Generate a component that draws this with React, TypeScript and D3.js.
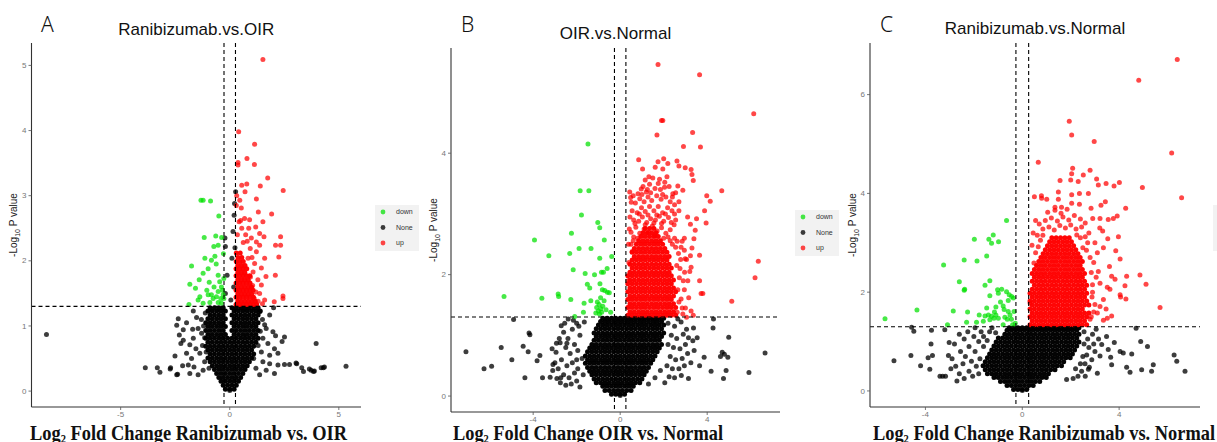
import * as d3 from 'd3';
import React from 'react';

type Pt = [number, number];
type Row = [number, number[]]; // [y, x values] for the packed cores of each cloud

// cut-offs used for the dashed guide lines
const fcCut = 0.263;
const pCut = 1.301;
// each position in a packed core stands for about this many overplotted genes
const coreDepth = 3;

// ---------- A: Ranibizumab.vs.OIR ----------
const aXTicks = [-5, 0, 5];
const aYTicks = [0, 1, 2, 3, 4, 5];

const aDown: Pt[] = [
  [-1.32,2.93],[-1.22,2.93],[-0.88,2.92],[-0.5,2.69],[-1.17,2.36],[-0.64,2.38],[-0.37,2.36],[-0.53,2.24],[-0.73,2.22],
  [-0.29,2.11],[-0.68,2.07],[-0.84,2.01],[-1.14,2.04],[-1.75,1.92],[-0.99,1.88],[-1.22,1.81],[-1.4,1.71],[-0.53,1.78],
  [-1.83,1.64],[-0.94,1.67],[-0.46,1.68],[-1.57,1.58],[-0.72,1.6],[-0.38,1.6],[-1.37,1.45],[-1.45,1.4],[-0.99,1.48],
  [-0.84,1.48],[-0.53,1.53],[-0.33,1.55],[-0.76,1.42],[-0.61,1.45],[-0.41,1.42],[-0.91,1.36],[-1.22,1.35],[-1.87,1.33],
  [-0.53,1.36],[-0.38,1.35],[-0.27,1.73],[-0.27,1.42],[-0.3,1.48],[-1.05,1.55],[-0.62,1.95],
];
const aUp: Pt[] = [
  [1.52,5.09],[0.41,3.98],[1.14,3.79],[0.79,3.57],[0.38,3.51],[0.38,3.47],[1.13,3.48],[1.74,3.27],[0.55,3.16],[0.78,3.18],
  [0.7,3.06],[1.4,3.15],[2.45,3.08],[1.22,2.95],[0.46,2.93],[1.31,2.75],[1.92,2.72],[0.53,2.81],[0.68,2.65],[0.91,2.63],
  [0.43,2.6],[1.19,2.52],[1.52,2.6],[0.87,2.5],[2.33,2.37],[2.33,2.24],[2.1,2.24],[2.25,2.06],[1.57,2.37],[1.37,2.24],
  [1.6,2.04],[1.22,2.14],[2.09,1.78],[1.66,1.76],[2.44,1.46],[2.44,1.42],[2.04,1.37],[1.6,1.4],[1.37,1.5],[1.45,1.63],
  [1.29,1.71],[1.07,1.83],[1.14,1.96],[0.99,2.35],[0.73,2.4],[1.37,2.42],[1.22,2.29],[0.94,2.19],[1.45,1.89],[0.84,2.04],
  [1.3,1.38],[1.2,1.52],[1.05,1.62],[1.5,1.34],[0.3,2.85],[0.32,3.0],[0.62,2.28],[0.35,2.4],[0.55,2.5],[1.02,2.05],
  [1.12,1.42],[0.95,1.75],[0.5,2.62],[0.8,2.3],
];
const aUpRows: Row[] = [
  [1.33,[0.29,0.45,0.61,0.77,0.93,1.09,1.23]],[1.38,[0.37,0.53,0.69,0.85,1.01,1.17]],[1.44,[0.29,0.45,0.61,0.77,0.93,1.09]],
  [1.49,[0.37,0.53,0.69,0.85,1.01]],[1.55,[0.29,0.45,0.61,0.77,0.93,1.07]],[1.6,[0.37,0.53,0.69,0.85,1.0]],
  [1.66,[0.29,0.45,0.61,0.77,0.93]],[1.71,[0.37,0.53,0.69,0.85]],[1.77,[0.29,0.45,0.61,0.77,0.92]],
  [1.82,[0.37,0.53,0.69]],[1.88,[0.29,0.45,0.61,0.78]],[1.93,[0.37,0.53,0.7]],[1.99,[0.3,0.46,0.62]],
  [2.05,[0.38,0.55]],[2.12,[0.3,0.48]],
];
const aNone: Pt[] = [
  [-8.4,0.87],[-1.67,1.23],[-2.36,1.11],[-1.98,1.05],[-1.52,1.13],[-2.13,0.94],[-1.7,0.95],[-1.45,0.96],[-2.31,0.86],
  [-2.13,0.78],[-2.24,0.73],[-1.67,0.81],[-1.29,0.89],[-1.83,0.71],[-1.55,0.65],[-2.51,0.54],[-1.98,0.58],[-1.75,0.5],
  [-1.37,0.58],[-2.16,0.39],[-2.71,0.36],[-3.32,0.36],[-3.2,0.29],[-2.39,0.26],[-1.83,0.27],[-1.64,0.37],[-1.9,0.4],
  [-1.45,0.25],[-1.22,0.32],[-3.87,0.36],[-2.73,0.34],[-2.43,0.25],[-2.43,1.01],[-1.2,1.0],[-1.25,0.7],[-1.15,0.45],
  [1.6,1.02],[1.67,0.96],[1.98,0.91],[2.1,0.85],[2.51,0.83],[2.4,0.76],[1.52,0.81],[1.75,0.73],[2.05,0.65],[2.21,0.58],
  [1.83,0.55],[3.96,0.73],[1.37,1.22],[1.83,1.17],[2.01,1.28],[1.52,0.45],[1.83,0.42],[2.21,0.4],[2.51,0.41],[2.74,0.41],
  [3.07,0.42],[3.3,0.36],[3.38,0.3],[3.73,0.32],[3.84,0.3],[4.19,0.36],[4.29,0.36],[5.33,0.38],[2.05,0.27],[1.67,0.32],
  [1.37,0.25],[3.04,0.43],[3.65,0.34],[3.88,0.31],[4.34,0.37],[1.5,1.1],[1.45,0.6],[1.2,0.35],[0.0,0.01],
  [0.27,3.06],[0.22,2.88],[0.2,2.7],[0.15,2.45],[-0.2,2.22],[0.1,2.04],[-0.12,1.78],[0.18,1.6],[-0.2,1.5],[0.05,1.4],
  [-0.22,2.35],[0.24,2.2],[-1.12,1.2],[-1.3,1.1],[-1.15,0.82],[-1.08,0.6],[-0.95,0.35],[1.4,0.92],[1.3,0.7],[1.1,0.5],
];
const aNoneRows: Row[] = [
  [0.03,[-0.2,0,0.2]],
  [0.09,[-0.3,-0.1,0.1,0.3]],
  [0.15,[-0.4,-0.2,0,0.2,0.4]],
  [0.21,[-0.5,-0.3,-0.1,0.1,0.3,0.5]],
  [0.27,[-0.6,-0.4,-0.2,0,0.2,0.4,0.6]],
  [0.33,[-0.7,-0.5,-0.3,-0.1,0.1,0.3,0.5,0.7]],
  [0.39,[-0.8,-0.6,-0.4,-0.2,0,0.2,0.4,0.6,0.8]],
  [0.45,[-0.9,-0.7,-0.5,-0.3,-0.1,0.1,0.3,0.5,0.7,0.9]],
  [0.51,[-1,-0.8,-0.6,-0.4,-0.2,0,0.2,0.4,0.6,0.8,1]],
  [0.57,[-0.9,-0.7,-0.5,-0.3,-0.1,0.1,0.3,0.5,0.7,0.9,1.1]],
  [0.63,[-1,-0.8,-0.6,-0.4,-0.2,0,0.2,0.4,0.6,0.8,1]],
  [0.69,[-1.1,-0.9,-0.7,-0.5,-0.3,-0.1,0.1,0.3,0.5,0.7,0.9,1.1]],
  [0.75,[-1,-0.8,-0.6,-0.4,-0.2,0,0.2,0.4,0.6,0.8,1,1.2]],
  [0.81,[-1.1,-0.9,-0.7,-0.5,-0.3,-0.1,0.1,0.3,0.5,0.7,0.9,1.1,1.3]],
  [0.87,[-1,-0.8,-0.6,-0.4,-0.2,0.2,0.4,0.6,0.8,1,1.2]],
  [0.93,[-1.1,-0.9,-0.7,-0.5,-0.3,0.1,0.3,0.5,0.7,0.9,1.1,1.3]],
  [0.99,[-1,-0.8,-0.6,-0.4,-0.2,0.2,0.4,0.6,0.8,1,1.2]],
  [1.05,[-1.1,-0.9,-0.7,-0.5,-0.3,0.1,0.3,0.5,0.7,0.9,1.1,1.3]],
  [1.11,[-1,-0.8,-0.6,-0.4,-0.2,0.2,0.4,0.6,0.8,1,1.2]],
  [1.17,[-0.9,-0.7,-0.5,-0.3,0.1,0.3,0.5,0.7,0.9,1.1,1.3]],
  [1.23,[-1,-0.8,-0.6,-0.4,-0.2,0.2,0.4,0.6,0.8,1,1.2,1.4]],
  [1.28,[-0.9,-0.7,-0.5,-0.3,0.1,0.3,0.5,0.7,0.9,1.1,1.3]],
];

// ---------- B: OIR.vs.Normal ----------
const bXTicks = [-4, 0, 4];
const bYTicks = [0, 2, 4];

const bDown: Pt[] = [
  [-1.48,4.15],[-1.84,3.38],[-1.44,3.38],[-1.78,2.98],[-1.03,2.86],[-0.94,2.77],[-3.94,2.57],[-2.24,2.68],[-0.73,2.57],
  [-1.89,2.43],[-1.34,2.43],[-3.28,2.31],[-2.32,2.35],[-0.94,2.27],[-0.39,2.3],[-2.16,2.08],[-1.61,2.02],[-1.18,2.0],
  [-0.86,2.04],[-0.77,2.04],[-0.6,2.1],[-1.51,1.84],[-1.4,1.78],[-0.93,1.85],[-0.82,1.75],[-0.71,1.74],[-0.59,1.71],
  [-0.5,1.7],[-5.34,1.64],[-3.6,1.61],[-2.85,1.68],[-2.83,1.64],[-2.27,1.59],[-1.66,1.53],[-1.35,1.57],[-1.05,1.55],
  [-0.97,1.51],[-1.08,1.46],[-0.89,1.44],[-0.74,1.57],[-1.69,1.38],[-1.12,1.37],[-0.44,1.38],[-2.09,1.31],[-0.95,1.35],
  [-1.0,1.4],[-0.85,1.38],[-0.8,1.48],[-0.65,1.42],[-0.9,1.62],
];
const bUp: Pt[] = [
  [1.74,5.46],[3.65,5.29],[6.14,4.65],[1.9,4.54],[1.96,4.54],[1.69,4.3],[3.33,4.34],[2.91,4.11],[3.69,4.1],[0.85,3.89],
  [1.03,3.74],[2.0,3.91],[1.74,3.86],[2.19,3.83],[1.61,3.77],[1.96,3.74],[2.61,3.87],[2.7,3.79],[2.99,3.76],[3.26,3.73],
  [3.3,3.65],[3.36,3.55],[1.32,3.61],[1.5,3.59],[1.81,3.57],[2.15,3.61],[1.35,3.49],[2.65,3.46],[2.04,3.44],[2.88,3.39],
  [2.42,3.33],[4.67,3.38],[3.98,3.3],[4.14,3.21],[0.44,3.36],[0.48,3.27],[0.51,3.19],[0.82,3.33],[0.97,3.41],[1.2,3.36],
  [3.88,3.05],[3.95,2.85],[3.51,2.92],[3.23,2.83],[3.45,2.73],[3.39,2.59],[3.3,2.44],[3.23,2.31],[2.99,2.26],[3.26,2.12],
  [2.96,2.04],[3.11,1.9],[3.65,2.32],[3.65,1.9],[3.72,1.69],[3.8,1.69],[6.35,2.22],[6.2,1.95],[5.13,1.56],[3.0,1.45],
  [3.26,1.4],[3.36,1.33],[2.88,1.35],[0.36,1.9],[0.4,2.2],[0.38,2.5],[0.42,2.75],[0.45,2.95],[2.8,1.6],[2.95,1.75],
  [2.75,2.1],[2.8,2.45],[2.95,2.6],[3.1,2.95],[2.7,3.05],[2.55,2.9],
  // loose upper part of the red column
  [0.5,2.7],[0.72,2.78],[0.9,2.68],[1.1,2.75],[1.3,2.7],[1.48,2.8],[1.7,2.72],[1.9,2.77],[2.1,2.68],[2.3,2.74],
  [2.48,2.82],[0.62,2.9],[0.85,2.88],[1.02,2.95],[1.22,2.86],[1.4,2.92],[1.62,2.9],[1.8,2.96],[2.0,2.88],[2.22,2.94],
  [0.55,3.05],[0.78,3.02],[0.98,3.1],[1.15,3.04],[1.35,3.12],[1.55,3.05],[1.75,3.12],[1.95,3.02],[2.18,3.1],[2.38,3.05],
  [0.7,3.18],[0.9,3.25],[1.1,3.2],[1.28,3.28],[1.45,3.22],[1.68,3.3],[1.88,3.24],[2.1,3.28],[2.3,3.2],[2.5,3.15],
  [1.05,3.45],[1.25,3.4],[1.6,3.42],[1.85,3.4],[2.25,3.45],[2.55,3.35],[2.7,3.2],[2.5,2.6],[0.62,2.62],[1.6,2.64],
  [0.5,2.5],[0.6,2.56],[0.55,2.38],[2.3,2.56],[2.4,2.5],[2.2,2.62],[0.8,2.6],[2.0,2.6],[0.68,2.84],[1.15,2.82],
  [1.55,2.85],[1.9,2.84],[2.35,2.86],[0.88,3.0],[1.28,2.98],[1.68,2.98],[2.08,3.0],[2.5,3.0],[1.0,3.32],[1.4,3.35],
  [1.95,3.32],[2.4,3.28],[0.6,3.3],[1.15,3.56],[1.75,3.5],[2.05,3.52],
  // ragged right edge of the column
  [2.62,1.38],[2.7,1.55],[2.65,1.75],[2.72,1.95],[2.6,2.15],[2.68,2.35],[2.85,1.45],[2.9,1.9],[2.78,2.25],[2.85,2.55],
  [3.05,2.25],[3.15,1.62],[2.62,2.55],[3.05,1.3],[2.95,2.4],[3.2,2.05],[2.55,2.45],
];
const bUpRows: Row[] = [
  [1.33,[0.35,0.55,0.75,0.95,1.15,1.35,1.55,1.75,1.95,2.15,2.35,2.55]],
  [1.39,[0.45,0.65,0.85,1.05,1.25,1.45,1.65,1.85,2.05,2.25,2.45]],
  [1.46,[0.35,0.55,0.75,0.95,1.15,1.35,1.55,1.75,1.95,2.15,2.35,2.55]],
  [1.52,[0.45,0.65,0.85,1.05,1.25,1.45,1.65,1.85,2.05,2.25,2.45]],
  [1.59,[0.35,0.55,0.75,0.95,1.15,1.35,1.55,1.75,1.95,2.15,2.35]],
  [1.65,[0.45,0.65,0.85,1.05,1.25,1.45,1.65,1.85,2.05,2.25,2.45]],
  [1.72,[0.35,0.55,0.75,0.95,1.15,1.35,1.55,1.75,1.95,2.15,2.35,2.55]],
  [1.78,[0.45,0.65,0.85,1.05,1.25,1.45,1.65,1.85,2.05,2.25,2.45]],
  [1.85,[0.35,0.55,0.75,0.95,1.15,1.35,1.55,1.75,1.95,2.15,2.35]],
  [1.91,[0.45,0.65,0.85,1.05,1.25,1.45,1.65,1.85,2.05,2.25,2.45]],
  [1.98,[0.35,0.55,0.75,0.95,1.15,1.35,1.55,1.75,1.95,2.15,2.35]],
  [2.04,[0.45,0.65,0.85,1.05,1.25,1.45,1.65,1.85,2.05,2.25]],
  [2.11,[0.55,0.75,0.95,1.15,1.35,1.55,1.75,1.95,2.15,2.35]],
  [2.17,[0.45,0.65,0.85,1.05,1.25,1.45,1.65,1.85,2.05,2.25]],
  [2.24,[0.55,0.75,0.95,1.15,1.35,1.55,1.75,1.95,2.15]],
  [2.3,[0.65,0.85,1.05,1.25,1.45,1.65,1.85,2.05,2.25]],
  [2.37,[0.55,0.75,0.95,1.15,1.35,1.55,1.75,1.95,2.15]],
  [2.43,[0.65,0.85,1.05,1.25,1.45,1.65,1.85,2.05]],
  [2.5,[0.75,0.95,1.15,1.35,1.55,1.75,1.95]],
  [2.56,[0.85,1.05,1.25,1.45,1.65,1.85]],
  [2.63,[0.95,1.15,1.35,1.55,1.75]],
  [2.69,[1.05,1.25,1.45,1.65]],
  [2.76,[1.15,1.35,1.55]],
];
const bNone: Pt[] = [
  [-7.09,0.73],[-6.26,0.45],[-5.91,0.49],[-5.47,0.8],[-4.98,0.6],[-4.9,1.26],[-4.46,0.82],[-4.23,0.73],[-4.19,1.04],
  [-4.15,1.01],[-4.38,0.3],[-3.82,0.58],[-3.69,0.67],[-3.57,0.3],[-3.22,0.31],[-2.91,0.29],[-2.73,0.3],[-3.13,0.78],
  [-3.09,0.52],[-2.93,0.87],[-2.76,0.88],[-2.71,1.16],[-2.39,1.27],[-2.45,0.87],
  [-2.6,1.05],[-2.4,0.95],[-2.2,1.1],[-2.0,1.2],[-1.85,1.0],[-2.5,0.8],[-2.3,0.7],[-2.1,0.85],[-1.95,0.75],[-2.7,0.6],
  [-2.45,0.5],[-2.2,0.55],[-2.0,0.6],[-2.85,0.45],[-2.6,0.35],[-2.35,0.3],[-2.1,0.38],[-1.95,0.45],[-2.75,0.22],
  [-2.5,0.18],[-2.25,0.2],[-2.0,0.25],[-1.85,0.15],[-3.0,0.55],[-3.1,0.42],[-2.8,0.95],[-2.95,0.72],[-2.15,1.25],
  [-1.9,1.15],[-2.55,1.2],[-1.65,1.22],[-1.75,0.62],[-1.7,0.35],
  [4.29,1.27],[4.27,1.12],[3.37,1.12],[4.99,0.97],[3.54,0.96],[3.34,0.91],[3.14,0.96],[3.86,0.64],[4.69,0.72],
  [4.79,0.69],[4.61,0.65],[4.95,0.64],[6.66,0.71],[4.18,0.41],[4.87,0.42],[4.75,0.29],[5.92,0.39],[3.65,0.5],
  [3.14,0.29],[2.81,0.34],
  [2.2,1.2],[2.5,1.15],[2.8,1.22],[2.35,1.0],[2.6,0.95],[2.9,1.02],[2.2,0.85],[2.45,0.8],[2.75,0.78],[3.0,0.85],
  [2.3,0.65],[2.55,0.6],[2.85,0.62],[3.1,0.7],[2.15,0.5],[2.4,0.45],[2.7,0.45],[2.95,0.5],[2.25,0.32],[2.5,0.3],
  [2.05,0.22],[3.25,0.55],[2.65,1.27],[3.05,1.1],[3.4,0.75],[0.0,0.01],[1.6,0.3],[1.85,0.42],[1.3,0.2],
];
const bNoneRows: Row[] = [
  [0.03,[-0.4,-0.2,0,0.2]],
  [0.09,[-0.7,-0.5,-0.3,-0.1,0.1,0.3,0.5]],
  [0.16,[-0.8,-0.6,-0.4,-0.2,0,0.2,0.4,0.6]],
  [0.22,[-1.1,-0.9,-0.7,-0.5,-0.3,-0.1,0.1,0.3,0.5,0.7,0.9]],
  [0.28,[-1.2,-1,-0.8,-0.6,-0.4,-0.2,0,0.2,0.4,0.6,0.8,1]],
  [0.35,[-1.3,-1.1,-0.9,-0.7,-0.5,-0.3,-0.1,0.1,0.3,0.5,0.7,0.9,1.1]],
  [0.41,[-1.4,-1.2,-1,-0.8,-0.6,-0.4,-0.2,0,0.2,0.4,0.6,0.8,1,1.2]],
  [0.47,[-1.5,-1.3,-1.1,-0.9,-0.7,-0.5,-0.3,-0.1,0.1,0.3,0.5,0.7,0.9,1.1,1.3]],
  [0.54,[-1.6,-1.4,-1.2,-1,-0.8,-0.6,-0.4,-0.2,0,0.2,0.4,0.6,0.8,1,1.2,1.4]],
  [0.6,[-1.5,-1.3,-1.1,-0.9,-0.7,-0.5,-0.3,-0.1,0.1,0.3,0.5,0.7,0.9,1.1,1.3,1.5]],
  [0.66,[-1.6,-1.4,-1.2,-1,-0.8,-0.6,-0.4,-0.2,0,0.2,0.4,0.6,0.8,1,1.2,1.4,1.6]],
  [0.73,[-1.5,-1.3,-1.1,-0.9,-0.7,-0.5,-0.3,-0.1,0.1,0.3,0.5,0.7,0.9,1.1,1.3,1.5,1.7]],
  [0.79,[-1.4,-1.2,-1,-0.8,-0.6,-0.4,-0.2,0,0.2,0.4,0.6,0.8,1,1.2,1.4,1.6,1.8]],
  [0.85,[-1.3,-1.1,-0.9,-0.7,-0.5,-0.3,-0.1,0.1,0.3,0.5,0.7,0.9,1.1,1.3,1.5,1.7,1.9]],
  [0.92,[-1.2,-1,-0.8,-0.6,-0.4,-0.2,0,0.2,0.4,0.6,0.8,1,1.2,1.4,1.6,1.8]],
  [0.98,[-1.1,-0.9,-0.7,-0.5,-0.3,-0.1,0.1,0.3,0.5,0.7,0.9,1.1,1.3,1.5,1.7,1.9]],
  [1.04,[-1.2,-1,-0.8,-0.6,-0.4,-0.2,0,0.2,0.4,0.6,0.8,1,1.2,1.4,1.6,1.8,2]],
  [1.11,[-1.1,-0.9,-0.7,-0.5,-0.3,-0.1,0.1,0.3,0.5,0.7,0.9,1.1,1.3,1.5,1.7,1.9]],
  [1.17,[-1,-0.8,-0.6,-0.4,-0.2,0,0.2,0.4,0.6,0.8,1,1.2,1.4,1.6,1.8,2]],
  [1.23,[-0.9,-0.7,-0.5,-0.3,-0.1,0.1,0.3,0.5,0.7,0.9,1.1,1.3,1.5,1.7,1.9]],
  [1.28,[-0.8,-0.6,-0.4,-0.2,0,0.2,0.4,0.6,0.8,1,1.2,1.4,1.6,1.8,2]],
];

// ---------- C: Ranibizumab.vs.Normal ----------
const cXTicks = [-4, 0, 4];
const cYTicks = [0, 2, 4, 6];

const cDown: Pt[] = [
  [-0.65,3.45],[-1.98,3.07],[-1.38,3.07],[-1.2,3.16],[-1.27,2.99],[-0.98,3.02],[-3.25,2.55],[-2.4,2.65],[-1.87,2.63],
  [-1.47,2.73],[-2.6,2.21],[-2.4,2.04],[-2.38,2.06],[-1.54,2.14],[-1.34,2.23],[-1.02,2.05],[-0.85,2.06],[-0.99,1.98],
  [-0.65,2.01],[-0.54,1.95],[-0.44,1.91],[-1.34,1.93],[-0.37,1.88],[-0.58,1.83],[-5.67,1.46],[-4.35,1.64],[-2.85,1.62],
  [-2.26,1.6],[-1.47,1.68],[-1.09,1.7],[-0.79,1.72],[-0.58,1.61],[-0.34,1.61],[-1.78,1.54],[-1.54,1.52],[-1.4,1.54],
  [-1.27,1.51],[-1.17,1.47],[-1.09,1.54],[-0.99,1.47],[-0.72,1.49],[-0.62,1.45],[-0.51,1.54],[-3.09,1.34],[-2.3,1.39],
  [-1.89,1.39],[-1.61,1.41],[-1.34,1.44],[-0.79,1.34],[-0.4,1.34],[-0.29,1.37],[-0.9,1.8],[-0.75,1.65],[-1.15,1.6],
  [-0.45,1.45],
];
const cUp: Pt[] = [
  [6.4,6.71],[4.81,6.29],[1.94,5.46],[2.04,5.18],[2.97,5.05],[6.17,4.82],[0.66,4.63],[4.96,4.12],[6.58,3.91],[2.08,4.51],
  [2.04,4.4],[2.52,4.37],[2.8,4.47],[3.07,4.29],[3.46,4.2],[3.79,4.15],[4.01,4.22],[3.14,4.17],[2.31,4.24],[2.0,4.27],
  [1.56,4.26],[0.79,3.95],[1.01,3.88],[1.49,4.03],[1.49,3.88],[2.04,3.97],[2.36,4.0],[2.73,4.0],[2.04,3.8],[2.36,3.78],
  [2.84,3.7],[3.25,3.76],[3.43,3.83],[4.27,3.7],[1.35,3.72],[1.62,3.72],[2.91,3.49],[3.21,3.49],[3.55,3.47],[3.76,3.49],
  [3.92,3.54],[3.32,3.24],[3.97,3.12],[3.53,3.08],[3.86,2.84],[4.04,2.67],[3.6,2.52],[3.69,2.32],[3.83,2.26],[3.14,2.42],
  [3.21,2.18],[3.51,2.1],[3.62,2.06],[4.31,2.32],[4.24,2.13],[4.04,1.95],[4.06,1.9],[4.28,1.86],[3.35,1.85],[3.46,1.66],
  [3.21,1.71],[3.51,1.47],[3.69,1.52],[3.35,1.43],[3.1,1.58],[4.86,2.35],[5.11,2.16],[5.69,1.69],[0.5,3.93],[0.8,3.9],
  [0.48,2.59],[0.32,1.78],[3.0,3.0],[3.1,2.8],[2.95,2.6],[3.05,2.3],[2.9,2.0],[3.0,1.75],[2.85,1.5],[3.2,3.3],[3.35,2.9],
  [0.4,2.95],[0.45,3.2],[0.55,3.45],
  // loose top of the red cloud
  [0.85,3.28],[1.1,3.32],[1.32,3.26],[1.55,3.35],[1.78,3.3],[2.0,3.36],[2.22,3.28],[2.45,3.32],[0.95,3.45],[1.2,3.5],
  [1.45,3.44],[1.68,3.52],[1.92,3.46],[2.15,3.55],[2.4,3.48],[1.05,3.62],[1.35,3.66],[1.6,3.6],[1.85,3.68],[2.6,3.4],
  [0.7,3.38],[2.7,3.0],[2.8,2.7],[2.85,2.4],[2.9,2.15],[2.88,1.9],[2.95,1.6],[2.8,1.45],[2.75,3.2],[2.65,2.85],
  [2.6,3.12],[0.62,3.15],[0.55,2.8],[0.75,3.05],[2.4,3.1],[2.5,2.9],[0.66,2.92],[0.85,3.15],[2.25,3.16],
];
const cUpRows: Row[] = [
  [1.34,[0.32,0.5,0.68,0.86,1.04,1.22,1.4,1.58,1.76,1.94,2.12,2.3,2.48,2.66]],
  [1.42,[0.41,0.59,0.77,0.95,1.13,1.31,1.49,1.67,1.85,2.03,2.21,2.39,2.57]],
  [1.5,[0.32,0.5,0.68,0.86,1.04,1.22,1.4,1.58,1.76,1.94,2.12,2.3,2.48,2.66]],
  [1.58,[0.41,0.59,0.77,0.95,1.13,1.31,1.49,1.67,1.85,2.03,2.21,2.39,2.57,2.75]],
  [1.66,[0.32,0.5,0.68,0.86,1.04,1.22,1.4,1.58,1.76,1.94,2.12,2.3,2.48]],
  [1.74,[0.41,0.59,0.77,0.95,1.13,1.31,1.49,1.67,1.85,2.03,2.21,2.39,2.57,2.75]],
  [1.82,[0.32,0.5,0.68,0.86,1.04,1.22,1.4,1.58,1.76,1.94,2.12,2.3,2.48,2.66]],
  [1.9,[0.41,0.59,0.77,0.95,1.13,1.31,1.49,1.67,1.85,2.03,2.21,2.39,2.57]],
  [1.98,[0.32,0.5,0.68,0.86,1.04,1.22,1.4,1.58,1.76,1.94,2.12,2.3,2.48,2.66]],
  [2.06,[0.41,0.59,0.77,0.95,1.13,1.31,1.49,1.67,1.85,2.03,2.21,2.39,2.57]],
  [2.14,[0.5,0.68,0.86,1.04,1.22,1.4,1.58,1.76,1.94,2.12,2.3,2.48,2.66]],
  [2.22,[0.41,0.59,0.77,0.95,1.13,1.31,1.49,1.67,1.85,2.03,2.21,2.39,2.57]],
  [2.3,[0.5,0.68,0.86,1.04,1.22,1.4,1.58,1.76,1.94,2.12,2.3,2.48]],
  [2.38,[0.41,0.59,0.77,0.95,1.13,1.31,1.49,1.67,1.85,2.03,2.21,2.39,2.57]],
  [2.46,[0.5,0.68,0.86,1.04,1.22,1.4,1.58,1.76,1.94,2.12,2.3,2.48]],
  [2.54,[0.59,0.77,0.95,1.13,1.31,1.49,1.67,1.85,2.03,2.21,2.39]],
  [2.62,[0.68,0.86,1.04,1.22,1.4,1.58,1.76,1.94,2.12,2.3,2.48]],
  [2.7,[0.77,0.95,1.13,1.31,1.49,1.67,1.85,2.03,2.21,2.39]],
  [2.78,[0.86,1.04,1.22,1.4,1.58,1.76,1.94,2.12,2.3]],
  [2.86,[0.95,1.13,1.31,1.49,1.67,1.85,2.03,2.21]],
  [2.94,[1.04,1.22,1.4,1.58,1.76,1.94,2.12]],
  [3.02,[1.13,1.31,1.49,1.67,1.85,2.03]],
  [3.1,[1.22,1.4,1.58,1.76,1.94]],
];
const cNone: Pt[] = [
  [-5.3,0.61],[-4.6,0.72],[-4.2,0.51],[-3.82,0.44],[-3.89,0.67],[-3.71,0.72],[-3.77,0.95],[-4.57,1.29],[-4.48,1.21],
  [-3.75,1.23],[-3.4,0.3],[-3.29,0.3],[-3.17,0.3],[-3.2,1.24],[-3.02,0.98],
  [-2.8,0.95],[-2.9,0.65],[-2.75,0.5],[-2.95,0.45],[-2.6,1.15],[-2.4,1.05],[-2.55,0.8],[-2.35,0.7],[-2.6,0.35],
  [-2.45,0.55],[-2.2,0.9],[-2.25,1.2],[-2.1,0.6],[-2.2,0.4],[-2.4,0.25],[-2.0,1.1],[-1.95,0.8],[-1.9,0.5],[-2.05,0.3],
  [-1.8,1.0],[-1.75,0.65],[-1.8,0.35],[-1.7,1.2],[-1.95,1.28],[-3.05,0.72],[-2.7,0.2],[-1.6,0.9],[-1.6,1.1],
  [-1.35,1.2],[-1.45,1.02],[-1.25,1.28],[-1.1,1.18],
  [4.7,1.27],[4.89,1.0],[5.17,0.9],[6.27,0.73],[6.38,0.6],[6.72,0.4],[5.41,0.53],[5.34,0.4],[4.93,0.43],[4.31,0.48],
  [4.45,0.38],[4.17,0.77],[4.04,0.8],[4.52,0.75],[3.69,0.53],[3.65,0.68],[3.8,0.98],[3.48,1.1],[3.28,0.94],[3.55,0.84],
  [3.1,0.36],[2.77,0.48],[2.73,0.44],[2.87,0.63],[2.59,0.55],[2.66,0.73],[3.0,0.8],[3.21,0.71],[1.83,0.23],
  [2.55,1.2],[2.7,1.05],[2.9,1.15],[3.05,1.25],[2.55,0.95],[2.75,0.88],[2.5,0.7],[2.45,0.4],[2.3,0.3],[2.1,0.25],
  [2.6,0.3],[2.95,0.95],[3.15,1.05],[2.4,0.55],[2.2,0.45],[0.0,0.01],
];
const cNoneRows: Row[] = [
  [0.03,[-0.36,-0.18,0,0.18]],
  [0.11,[-0.63,-0.45,-0.27,-0.09,0.09,0.27,0.45]],
  [0.19,[-0.9,-0.72,-0.54,-0.36,-0.18,0,0.18,0.36,0.54,0.72]],
  [0.27,[-1.17,-0.99,-0.81,-0.63,-0.45,-0.27,-0.09,0.09,0.27,0.45,0.63,0.81,0.99]],
  [0.35,[-1.44,-1.26,-1.08,-0.9,-0.72,-0.54,-0.36,-0.18,0,0.18,0.36,0.54,0.72,0.9,1.08]],
  [0.43,[-1.53,-1.35,-1.17,-0.99,-0.81,-0.63,-0.45,-0.27,-0.09,0.09,0.27,0.45,0.63,0.81,0.99,1.17,1.35]],
  [0.51,[-1.62,-1.44,-1.26,-1.08,-0.9,-0.72,-0.54,-0.36,-0.18,0,0.18,0.36,0.54,0.72,0.9,1.08,1.26,1.44,1.62]],
  [0.59,[-1.53,-1.35,-1.17,-0.99,-0.81,-0.63,-0.45,-0.27,-0.09,0.09,0.27,0.45,0.63,0.81,0.99,1.17,1.35,1.53,1.71]],
  [0.67,[-1.44,-1.26,-1.08,-0.9,-0.72,-0.54,-0.36,-0.18,0,0.18,0.36,0.54,0.72,0.9,1.08,1.26,1.44,1.62,1.8,1.98]],
  [0.75,[-1.35,-1.17,-0.99,-0.81,-0.63,-0.45,-0.27,-0.09,0.09,0.27,0.45,0.63,0.81,0.99,1.17,1.35,1.53,1.71,1.89,2.07]],
  [0.83,[-1.26,-1.08,-0.9,-0.72,-0.54,-0.36,-0.18,0,0.18,0.36,0.54,0.72,0.9,1.08,1.26,1.44,1.62,1.8,1.98,2.16]],
  [0.91,[-1.17,-0.99,-0.81,-0.63,-0.45,-0.27,-0.09,0.09,0.27,0.45,0.63,0.81,0.99,1.17,1.35,1.53,1.71,1.89,2.07,2.25]],
  [0.99,[-1.08,-0.9,-0.72,-0.54,-0.36,-0.18,0,0.18,0.36,0.54,0.72,0.9,1.08,1.26,1.44,1.62,1.8,1.98,2.16,2.34]],
  [1.07,[-0.99,-0.81,-0.63,-0.45,-0.27,-0.09,0.09,0.27,0.45,0.63,0.81,0.99,1.17,1.35,1.53,1.71,1.89,2.07,2.25]],
  [1.15,[-0.72,-0.54,-0.36,-0.18,0,0.18,0.36,0.54,0.72,0.9,1.08,1.26,1.44,1.62,1.8,1.98,2.16,2.34]],
  [1.23,[-0.63,-0.45,-0.27,-0.09,0.09,0.27,0.45,0.63,0.81,0.99,1.17,1.35,1.53,1.71,1.89,2.07,2.25]],
  [1.28,[-0.54,-0.36,-0.18,0,0.18,0.36,0.54,0.72,0.9,1.08,1.26,1.44,1.62,1.8,1.98,2.16,2.34]],
];

const legendKeys = ['down', 'None', 'up'];
const colors: Record<string, string> = { down: '#00e000', None: '#000000', up: '#ff0000' };
const alphas: Record<string, number> = { down: 0.72, None: 0.76, up: 0.72 };

const unrow = (rows: Row[]): Pt[] => rows.flatMap(([y, xs]) => xs.map((x) => [x, y] as Pt));

// layout of each panel (pixels)
const panels = [
  {
    letter: 'A', title: 'Ranibizumab.vs.OIR', comp: 'Ranibizumab vs. OIR',
    xTicks: aXTicks, yTicks: aYTicks,
    down: aDown, none: aNone, noneCore: unrow(aNoneRows), up: aUp, upCore: unrow(aUpRows),
    left: 31.5, right: 361, top: 43, bottom: 407, letterX: 41, titleY: 35,
    ylabX: 17, xlabX: 188.5, xlabW: 317, legX: 375, legY: 205,
  },
  {
    letter: 'B', title: 'OIR.vs.Normal', comp: 'OIR vs. Normal',
    xTicks: bXTicks, yTicks: bYTicks,
    down: bDown, none: bNone, noneCore: unrow(bNoneRows), up: bUp, upCore: unrow(bUpRows),
    left: 451, right: 780, top: 48, bottom: 412, letterX: 461, titleY: 39,
    ylabX: 437, xlabX: 588, xlabW: 270, legX: 795, legY: 210,
  },
  {
    letter: 'C', title: 'Ranibizumab.vs.Normal', comp: 'Ranibizumab vs. Normal',
    xTicks: cXTicks, yTicks: cYTicks,
    down: cDown, none: cNone, noneCore: unrow(cNoneRows), up: cUp, upCore: unrow(cUpRows),
    left: 870, right: 1200, top: 43, bottom: 407, letterX: 880, titleY: 34,
    ylabX: 856, xlabX: 1044, xlabW: 342, legX: 1213, legY: 205,
  },
];

type PanelSpec = typeof panels[number];

function Panel({ p }: { p: PanelSpec }) {
  const all = [...p.down, ...p.none, ...p.noneCore, ...p.up, ...p.upCore];
  const [x0, x1] = d3.extent(all, (d) => d[0]) as [number, number];
  const [y0, y1] = d3.extent(all, (d) => d[1]) as [number, number];
  const px = (x1 - x0) * 0.05;
  const py = (y1 - y0) * 0.05;
  const x = d3.scaleLinear().domain([x0 - px, x1 + px]).range([p.left, p.right]);
  const y = d3.scaleLinear().domain([y0 - py, y1 + py]).range([p.bottom, p.top]);

  // stacked points: opacity of `depth` overplotted copies
  const dots = (pts: Pt[], key: string, depth = 1) => {
    const op = 1 - Math.pow(1 - alphas[key], depth);
    return pts.map((d, i) => (
      <circle key={key + depth + '-' + i} cx={x(d[0])} cy={y(d[1])} r={2.5} fill={colors[key]} fillOpacity={op} />
    ));
  };

  const midY = (p.top + p.bottom) / 2;
  const midX = (p.left + p.right) / 2;

  return (
    <g>
      {dots(p.noneCore, 'None', coreDepth)}
      {dots(p.none, 'None')}
      {dots(p.down, 'down')}
      {dots(p.up, 'up')}
      {dots(p.upCore, 'up', coreDepth)}

      {/* threshold guides */}
      <g stroke="#000" strokeWidth={1.1} strokeDasharray="4,3">
        <line x1={x(-fcCut)} x2={x(-fcCut)} y1={p.top} y2={p.bottom} />
        <line x1={x(fcCut)} x2={x(fcCut)} y1={p.top} y2={p.bottom} />
        <line x1={p.left} x2={p.right} y1={y(pCut)} y2={y(pCut)} />
      </g>

      {/* axes */}
      <line x1={p.left} x2={p.left} y1={p.top} y2={p.bottom} stroke="#333" strokeWidth={1.1} />
      <line x1={p.left} x2={p.right} y1={p.bottom} y2={p.bottom} stroke="#333" strokeWidth={1.1} />
      {p.yTicks.map((t) => (
        <g key={'y' + t}>
          <line x1={p.left - 3} x2={p.left} y1={y(t)} y2={y(t)} stroke="#555" strokeWidth={0.8} />
          <text x={p.left - 5} y={y(t)} dy="0.33em" textAnchor="end" fontSize={8} fill="#777"
            fontFamily="Liberation Sans, Arial, sans-serif">{t}</text>
        </g>
      ))}
      {p.xTicks.map((t) => (
        <g key={'x' + t}>
          <line x1={x(t)} x2={x(t)} y1={p.bottom} y2={p.bottom + 3} stroke="#555" strokeWidth={0.8} />
          <text x={x(t)} y={p.bottom + 10} textAnchor="middle" fontSize={8} fill="#777"
            fontFamily="Liberation Sans, Arial, sans-serif">{t}</text>
        </g>
      ))}

      {/* y title */}
      <text transform={`translate(${p.ylabX},${midY}) rotate(-90)`} textAnchor="middle" fontSize={10} fill="#222"
        fontFamily="Liberation Sans, Arial, sans-serif">
        -Log<tspan fontSize={7} dy={2.5}>10</tspan><tspan dy={-2.5}> P value</tspan>
      </text>

      {/* panel letter + title */}
      <text x={p.letterX} y={32} fontSize={21} fill="#111" fontWeight={300}
        fontFamily="Noto Sans, DejaVu Sans, sans-serif">{p.letter}</text>
      <text x={midX} y={p.titleY} textAnchor="middle" fontSize={17} fill="#111"
        fontFamily="Liberation Sans, Arial, sans-serif">{p.title}</text>

      {/* x title */}
      <text x={p.xlabX} y={440} textAnchor="middle" fontSize={21} fontWeight="bold" fill="#111"
        fontFamily="Liberation Serif, Times New Roman, serif" textLength={p.xlabW} lengthAdjust="spacingAndGlyphs">
        Log<tspan fontSize={12} dy={3}>2</tspan><tspan dy={-3}> Fold Change {p.comp}</tspan>
      </text>

      {/* legend */}
      <g transform={`translate(${p.legX},${p.legY})`}>
        <rect x={0} y={0} width={44} height={46} fill="#f2f2f2" />
        {legendKeys.map((k, i) => (
          <g key={k} transform={`translate(0,${7 + i * 15.5})`}>
            <circle cx={8} cy={0} r={2.4} fill={colors[k]} fillOpacity={alphas[k]} />
            <text x={21} y={0} dy="0.35em" fontSize={7} fill="#333"
              fontFamily="Liberation Sans, Arial, sans-serif">{k}</text>
          </g>
        ))}
      </g>
    </g>
  );
}

export default function App() {
  return (
    <svg width={1217} height={442} style={{ position: 'absolute', left: 0, top: 0, background: '#fff' }}>
      <rect width={1217} height={442} fill="#fff" />
      {panels.map((p) => (
        <Panel key={p.letter} p={p} />
      ))}
    </svg>
  );
}
